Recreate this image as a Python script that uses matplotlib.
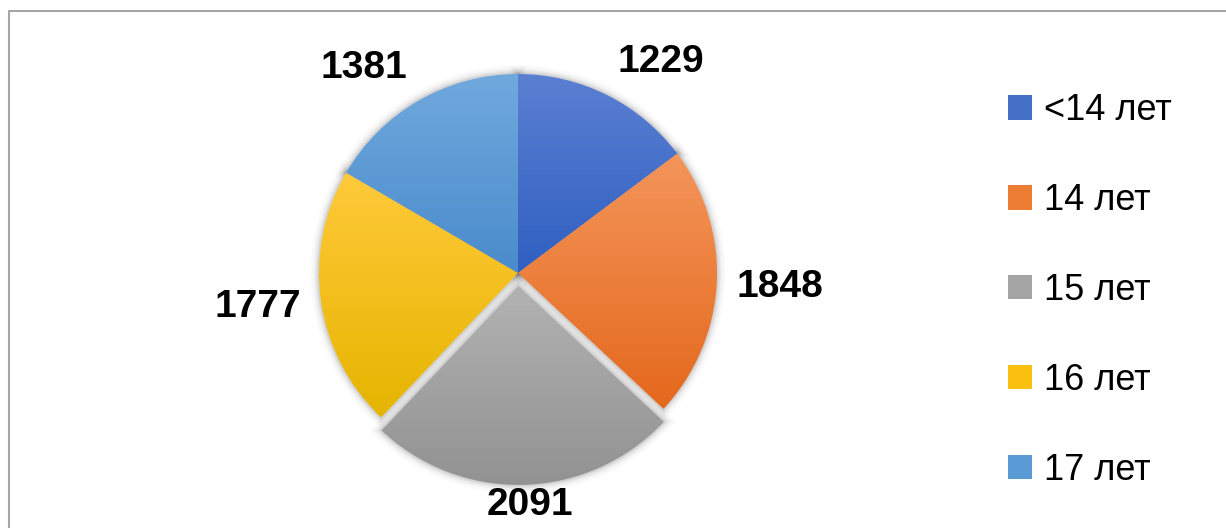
import numpy as np
import matplotlib
matplotlib.use('Agg')
import matplotlib.pyplot as plt
from matplotlib.patches import Wedge, Patch
from matplotlib.colors import LinearSegmentedColormap

plt.rcParams['font.family'] = ['Liberation Sans', 'DejaVu Sans']

# data
labels = ['<14 лет', '14 лет', '15 лет', '16 лет', '17 лет']
values = [1229, 1848, 2091, 1777, 1381]
explode_frac = [0, 0, 0.065, 0, 0]

# slice colours (top / bottom of the gradient)
top_colors = ['#5b80d2', '#f4955b', '#b2b2b2', '#ffca3a', '#70a9de']
bottom_colors = ['#2f5fc1', '#e4681c', '#929292', '#e6b400', '#4a8bcb']
legend_colors = ['#4470c8', '#ee7d34', '#a5a5a5', '#fac010', '#5b9bd5']

# label placement tweaks (degrees off mid-angle, distance in radii)
label_shift = [-7.6, 0, 1.3, -0.7, 7.1]
label_dist = [1.28, 1.32, 1.10, 1.318, 1.29]

W, H = 1226, 528
R = 199
center = (518, H - 273)

fig = plt.figure(figsize=(W / 100, H / 100), dpi=100)
ax = fig.add_axes([0, 0, 1, 1])

wedges, _ = ax.pie(values, radius=R, center=center, startangle=90, counterclock=False,
                   explode=[e * R for e in explode_frac])

for i, w in enumerate(wedges):
    w.set_facecolor('none')
    w.set_edgecolor('none')
    w.set_zorder(2)
    # soft shadow
    for lw, a in [(12, 0.025), (8, 0.035), (5, 0.05), (2.5, 0.07)]:
        s = Wedge(w.center, w.r, w.theta1, w.theta2, facecolor='none',
                  edgecolor=(0, 0, 0, a), linewidth=lw, zorder=1)
        ax.add_patch(s)
    # vertical gradient fill clipped to the wedge
    verts = w.get_patch_transform().transform(w.get_path().vertices)
    x0, y0 = verts.min(axis=0)
    x1, y1 = verts.max(axis=0)
    cmap = LinearSegmentedColormap.from_list('g%d' % i, [bottom_colors[i], top_colors[i]])
    grad = np.linspace(0, 1, 256).reshape(-1, 1)
    im = ax.imshow(grad, extent=[x0, x1, y0, y1], origin='lower', cmap=cmap,
                   aspect='auto', zorder=2, interpolation='bilinear')
    im.set_clip_path(w)

    mid = np.deg2rad((w.theta1 + w.theta2) / 2 + label_shift[i])
    cx, cy = w.center
    ax.text(cx + label_dist[i] * R * np.cos(mid), cy + label_dist[i] * R * np.sin(mid),
            str(values[i]), ha='center', va='center', fontsize=28, fontweight='bold',
            color='black', zorder=3)

handles = [Patch(facecolor=c, edgecolor='none') for c in legend_colors]
ax.legend(handles, labels, loc='center left', bbox_to_anchor=(1008 / W, 1 - 290.5 / H),
          frameon=False, fontsize=26, handlelength=0.66, handleheight=0.66,
          handletextpad=0.33, labelspacing=1.52, borderpad=0, borderaxespad=0)

# chart border
ax.plot([9, 9, W + 5], [-5, H - 11, H - 11], color='#a6a6a6', lw=1.5, clip_on=False, zorder=0)

ax.set_xlim(0, W)
ax.set_ylim(0, H)
ax.set_aspect('equal')
ax.axis('off')

plt.savefig('out.png', dpi=100)
